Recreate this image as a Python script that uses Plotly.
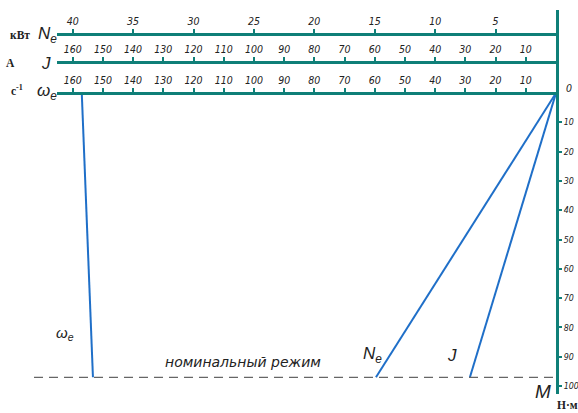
import plotly.graph_objects as go

# ---- data ----
M_nom = 97                      # nominal torque, N·m
line_M = [0, M_nom]             # torque at the two ends of every characteristic
omega_vals = [157, 153.3]       # ω_e, s^-1
N_vals = [0, 14.9]              # N_e, kW
J_vals = [0, 28.5]              # J, A

omega_ticks = [160, 150, 140, 130, 120, 110, 100, 90, 80, 70, 60, 50, 40, 30, 20, 10]
J_ticks = [160, 150, 140, 130, 120, 110, 100, 90, 80, 70, 60, 50, 40, 30, 20, 10]
N_ticks = [40, 35, 30, 25, 20, 15, 10, 5]
M_ticks = [10, 20, 30, 40, 50, 60, 70, 80, 90, 100]

# ---- style ----
TEAL = "#0f7f78"
BLUE = "#1f6fc8"
GREY = "#666666"
TICKFONT = dict(family="Liberation Sans Narrow, DejaVu Sans Condensed, Liberation Sans",
                size=10.5, color="#222222", style="italic")
YTICKFONT = dict(TICKFONT, size=8.8)
BIGFONT = dict(family="Liberation Sans, DejaVu Sans", size=17, color="#222222", style="italic")
UNITFONT = dict(family="Liberation Serif, DejaVu Serif", size=11.5, color="#222222", weight="bold")

W, H = 578, 413
ML, MR, MT, MB = 57, 22, 10, 19
pw, ph = W - ML - MR, H - MT - MB

x_range = [165.2, 0]
N_range = [x_range[0] / 4, 0]
y_range = [102.7, -28.3]


def ypos(px):
    return (H - MB - px) / ph


def xpos(px):
    return (px - ML) / pw


fig = go.Figure()
fig.add_trace(go.Scatter(x=omega_vals, y=line_M, mode="lines", xaxis="x", yaxis="y",
                         line=dict(color=BLUE, width=2), hoverinfo="skip"))
fig.add_trace(go.Scatter(x=N_vals, y=line_M, mode="lines", xaxis="x3", yaxis="y",
                         line=dict(color=BLUE, width=2), hoverinfo="skip"))
fig.add_trace(go.Scatter(x=J_vals, y=line_M, mode="lines", xaxis="x2", yaxis="y",
                         line=dict(color=BLUE, width=2), hoverinfo="skip"))

pos0 = (y_range[0] - 0) / (y_range[0] - y_range[1])
common_x = dict(showgrid=False, zeroline=False, showline=True, linecolor=TEAL, linewidth=3,
                ticks="outside", ticklen=4, tickwidth=2, tickcolor=TEAL, side="top",
                tickfont=TICKFONT, anchor="free", domain=[0, 1])

fig.update_layout(
    width=W, height=H,
    margin=dict(l=ML, r=MR, t=MT, b=MB, autoexpand=False),
    paper_bgcolor="white", plot_bgcolor="white",
    showlegend=False,
    xaxis=dict(range=x_range, tickvals=omega_ticks, ticktext=[str(v) for v in omega_ticks],
               position=pos0, **common_x),
    xaxis2=dict(range=x_range, tickvals=J_ticks, ticktext=[str(v) for v in J_ticks],
                position=ypos(62), overlaying="x", **common_x),
    xaxis3=dict(range=N_range, tickvals=N_ticks, ticktext=[str(v) for v in N_ticks],
                position=ypos(34), overlaying="x", **common_x),
    yaxis=dict(range=y_range, tickvals=M_ticks, ticktext=[str(v) for v in M_ticks],
               side="right", anchor="x", showgrid=False, zeroline=False, showline=True,
               linecolor=TEAL, linewidth=3, ticks="outside", ticklen=3, tickwidth=2,
               tickcolor=TEAL, tickfont=YTICKFONT, domain=[0, 1]),
)

# nominal regime dashed line
fig.add_shape(type="line", xref="paper", yref="y", x0=xpos(34), x1=1, y0=M_nom, y1=M_nom,
              line=dict(color=GREY, width=1.3, dash="9px,6px"))

ann = []
# left unit labels and symbols
ann.append(dict(text="кВт", x=xpos(20), y=ypos(35), font=UNITFONT))
ann.append(dict(text="A", x=xpos(10), y=ypos(63), font=UNITFONT))
ann.append(dict(text="c<sup>-1</sup>", x=xpos(17), y=ypos(90), font=UNITFONT))
ann.append(dict(text="N<sub>e</sub>", x=xpos(47), y=ypos(35), font=BIGFONT))
ann.append(dict(text="J", x=xpos(46), y=ypos(63), font=BIGFONT))
ann.append(dict(text="ω<sub>e</sub>", x=xpos(47), y=ypos(92), font=BIGFONT))
ann.append(dict(text="0", x=xpos(569), y=ypos(88), font=TICKFONT))
ann.append(dict(text="Н·м", x=xpos(567), y=ypos(405), font=UNITFONT))
for a in ann:
    a.update(xref="paper", yref="paper", showarrow=False, xanchor="center", yanchor="middle")
    fig.add_annotation(**a)

# labels placed in data space
fig.add_annotation(text="ω<sub>e</sub>", x=162.5, y=82, xref="x", yref="y", showarrow=False,
                   font=dict(BIGFONT, size=15))
fig.add_annotation(text="номинальный режим", x=103.6, y=91.8, xref="x", yref="y",
                   showarrow=False, font=dict(family="DejaVu Sans, Liberation Sans", size=14,
                                              color="#222222", style="italic"))
fig.add_annotation(text="N<sub>e</sub>", x=60.9, y=89.4, xref="x", yref="y", showarrow=False,
                   font=BIGFONT)
fig.add_annotation(text="J", x=34.4, y=89.4, xref="x", yref="y", showarrow=False, font=BIGFONT)
fig.add_annotation(text="M", x=4.3, y=101.7, xref="x", yref="y", showarrow=False,
                   font=dict(BIGFONT, size=19))

fig.write_html("out.html", config={"displayModeBar": False})

# remove the browser's default page margin so the figure sits at the window origin
with open("out.html", encoding="utf-8") as f:
    html = f.read()
html = html.replace("<head>", "<head><style>html,body{margin:0;padding:0;overflow:hidden}</style>", 1)
with open("out.html", "w", encoding="utf-8") as f:
    f.write(html)
